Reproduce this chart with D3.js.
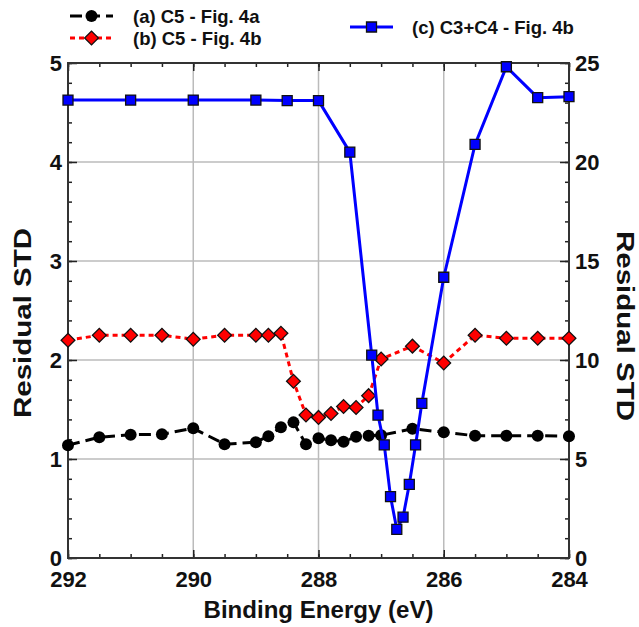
<!DOCTYPE html>
<html>
<head>
<meta charset="utf-8">
<script src="https://cdn.jsdelivr.net/npm/d3@7"></script>
<style>
  html, body { margin: 0; padding: 0; background: #fff; }
  text { font-family: "Liberation Sans", Arial, sans-serif; font-weight: bold; fill: #111; }
</style>
</head>
<body>
<script>
// values
const energyA = [292, 291.5, 291, 290.5, 290, 289.5, 289, 288.8, 288.6, 288.4, 288.2, 288,
                 287.8, 287.6, 287.4, 287.2, 287, 286.5, 286, 285.5, 285, 284.5, 284];
const stdA    = [1.14, 1.22, 1.245, 1.25, 1.31, 1.15, 1.17, 1.23, 1.32, 1.37, 1.15, 1.21,
                 1.19, 1.175, 1.225, 1.235, 1.24, 1.305, 1.27, 1.235, 1.235, 1.235, 1.23];
const energyB = energyA;
const stdB    = [2.20, 2.25, 2.25, 2.25, 2.21, 2.25, 2.25, 2.25, 2.27, 1.785, 1.445, 1.42,
                 1.46, 1.53, 1.52, 1.64, 2.01, 2.14, 1.97, 2.25, 2.22, 2.22, 2.22];
const energyC = [292, 291, 290, 289, 288.5, 288, 287.5, 287.15, 287.05, 286.95, 286.85,
                 286.75, 286.65, 286.55, 286.45, 286.35, 286, 285.5, 285, 284.5, 284];
const stdC    = [23.13, 23.13, 23.13, 23.13, 23.1, 23.1, 20.5, 10.25, 7.22, 5.71, 3.1,
                 1.45, 2.06, 3.72, 5.71, 7.81, 14.18, 20.89, 24.81, 23.25, 23.3];
const labelA = '(a) C5 - Fig. 4a',
      labelB = '(b) C5 - Fig. 4b',
      labelC = '(c) C3+C4 - Fig. 4b';
const xTicks      = [292, 290, 288, 286, 284],
      yLeftTicks  = [0, 1, 2, 3, 4, 5],
      yRightTicks = [0, 5, 10, 15, 20, 25];

const width  = 639,
      height = 627,
      margin = {top: 63, right: 70, bottom: 69, left: 68},
      w = width - margin.left - margin.right,
      h = height - margin.top - margin.bottom;

const svg = d3.select('body').append('svg')
  .attr('width', width)
  .attr('height', height);

const g = svg.append('g').attr('transform', `translate(${margin.left},${margin.top})`);

// x runs backwards, as binding energy plots do
const x  = d3.scaleLinear().domain([292, 284]).range([0, w]);
const yL = d3.scaleLinear().domain([0, 5]).range([h, 0]);
const yR = d3.scaleLinear().domain([0, 25]).range([h, 0]);

// grid lines at the major ticks
const grid = g.append('g').attr('stroke', '#bbbbbb').attr('stroke-width', 1.5);
for (const v of [290, 288, 286]) {
  grid.append('line').attr('x1', x(v)).attr('x2', x(v)).attr('y1', 0).attr('y2', h);
}
for (const v of [1, 2, 3, 4]) {
  grid.append('line').attr('x1', 0).attr('x2', w).attr('y1', yL(v)).attr('y2', yL(v));
}

// inward ticks: a minor pass then a major pass
const styleAxis = sel => {
  sel.selectAll('.domain').remove();
  sel.selectAll('line').attr('stroke', '#222').attr('stroke-width', 1.5);
  sel.selectAll('text').style('font-size', '22px').attr('fill', '#111');
};
const minorX  = d3.range(292, 283.9, -0.5),
      minorYL = d3.range(0, 5.01, 0.2),
      minorYR = d3.range(0, 25.1, 1);

g.append('g').attr('transform', `translate(0,${h})`)
  .call(d3.axisBottom(x).tickValues(minorX).tickSize(-4).tickFormat(''))
  .call(styleAxis);
g.append('g').attr('transform', `translate(0,${h})`)
  .call(d3.axisBottom(x).tickValues(xTicks).tickSize(-8).tickPadding(13).tickFormat(d3.format('d')))
  .call(styleAxis);
g.append('g')
  .call(d3.axisTop(x).tickValues(minorX).tickSize(-4).tickFormat(''))
  .call(styleAxis);
g.append('g')
  .call(d3.axisTop(x).tickValues(xTicks).tickSize(-8).tickFormat(''))
  .call(styleAxis);
g.append('g')
  .call(d3.axisLeft(yL).tickValues(minorYL).tickSize(-4).tickFormat(''))
  .call(styleAxis);
g.append('g')
  .call(d3.axisLeft(yL).tickValues(yLeftTicks).tickSize(-9).tickPadding(6).tickFormat(d3.format('d')))
  .call(styleAxis);
g.append('g').attr('transform', `translate(${w},0)`)
  .call(d3.axisRight(yR).tickValues(minorYR).tickSize(-4).tickFormat(''))
  .call(styleAxis);
g.append('g').attr('transform', `translate(${w},0)`)
  .call(d3.axisRight(yR).tickValues(yRightTicks).tickSize(-9).tickPadding(6).tickFormat(d3.format('d')))
  .call(styleAxis);

// frame
g.append('rect').attr('width', w).attr('height', h)
  .attr('fill', 'none').attr('stroke', '#333').attr('stroke-width', 2);

// axis titles
svg.append('text')
  .attr('x', margin.left + w / 2).attr('y', 618)
  .attr('text-anchor', 'middle')
  .attr('textLength', 230).attr('lengthAdjust', 'spacingAndGlyphs')
  .style('font-size', '24px')
  .text('Binding Energy (eV)');
svg.append('text')
  .attr('transform', 'translate(31,323) rotate(-90)')
  .attr('text-anchor', 'middle')
  .attr('textLength', 190).attr('lengthAdjust', 'spacingAndGlyphs')
  .style('font-size', '24px')
  .text('Residual STD');
svg.append('text')
  .attr('transform', 'translate(617,326) rotate(90)')
  .attr('text-anchor', 'middle')
  .attr('textLength', 190).attr('lengthAdjust', 'spacingAndGlyphs')
  .style('font-size', '24px')
  .text('Residual STD');

// series
const seriesA = energyA.map((e, i) => ({e, v: stdA[i]})),
      seriesB = energyB.map((e, i) => ({e, v: stdB[i]})),
      seriesC = energyC.map((e, i) => ({e, v: stdC[i]}));

const lineL = d3.line().x(d => x(d.e)).y(d => yL(d.v));
const lineR = d3.line().x(d => x(d.e)).y(d => yR(d.v));

const circleSym  = d3.symbol(d3.symbolCircle, Math.PI * 6 * 6),
      diamondSym = d3.symbol(d3.symbolSquare, 95),
      squareSym  = d3.symbol(d3.symbolSquare, 100);

// black dashed with circles
g.append('path').datum(seriesA)
  .attr('d', lineL).attr('fill', 'none')
  .attr('stroke', '#000').attr('stroke-width', 3).attr('stroke-dasharray', '12,6');
g.selectAll('.ptA').data(seriesA).join('path')
  .attr('class', 'ptA')
  .attr('transform', d => `translate(${x(d.e)},${yL(d.v)})`)
  .attr('d', circleSym).attr('fill', '#000');

// red dotted with diamonds
g.append('path').datum(seriesB)
  .attr('d', lineL).attr('fill', 'none')
  .attr('stroke', '#f00').attr('stroke-width', 3).attr('stroke-dasharray', '5,4');
g.selectAll('.ptB').data(seriesB).join('path')
  .attr('class', 'ptB')
  .attr('transform', d => `translate(${x(d.e)},${yL(d.v)}) rotate(45)`)
  .attr('d', diamondSym).attr('fill', '#f00').attr('stroke', '#111').attr('stroke-width', 1.3);

// blue solid with squares, right axis
g.append('path').datum(seriesC)
  .attr('d', lineR).attr('fill', 'none')
  .attr('stroke', '#00f').attr('stroke-width', 3);
g.selectAll('.ptC').data(seriesC).join('path')
  .attr('class', 'ptC')
  .attr('transform', d => `translate(${x(d.e)},${yR(d.v)})`)
  .attr('d', squareSym).attr('fill', '#00f').attr('stroke', '#111').attr('stroke-width', 1.3);

// legend
const legend = svg.append('g');
const legendItem = (lx, ly, color, dash, sym, rot, fill, label, tx) => {
  legend.append('line')
    .attr('x1', lx).attr('x2', lx + 43).attr('y1', ly).attr('y2', ly)
    .attr('stroke', color).attr('stroke-width', 3).attr('stroke-dasharray', dash);
  legend.append('path')
    .attr('transform', `translate(${lx + 21.5},${ly}) rotate(${rot})`)
    .attr('d', sym).attr('fill', fill)
    .attr('stroke', fill === '#000' ? 'none' : '#111').attr('stroke-width', 1.3);
  legend.append('text')
    .attr('x', tx).attr('y', ly + 7)
    .style('font-size', '18.5px')
    .text(label);
};
legendItem(70, 16, '#000', '12,6', circleSym, 0, '#000', labelA, 133);
legendItem(70, 38, '#f00', '5,4', diamondSym, 45, '#f00', labelB, 133);
legendItem(350, 27, '#00f', null, squareSym, 0, '#00f', labelC, 412);
</script>
</body>
</html>
